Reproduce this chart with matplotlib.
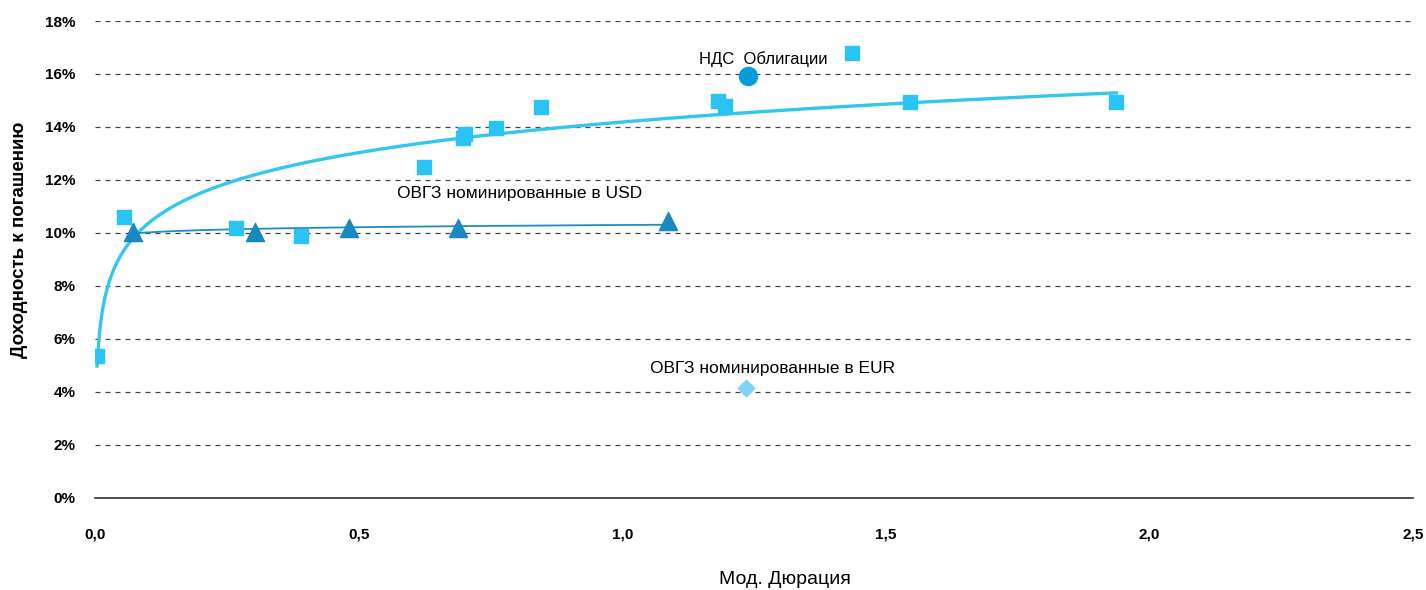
import numpy as np
import matplotlib.pyplot as plt
from matplotlib.ticker import FuncFormatter, MultipleLocator

plt.rcParams['font.family'] = ['Liberation Sans Narrow', 'Liberation Sans', 'DejaVu Sans']

# ---------------------------------------------------------
# DATA
# ---------------------------------------------------------

# ОВГЗ в гривне (квадраты)
uah_dur = [0.004, 0.055, 0.268, 0.391, 0.624, 0.698, 0.701, 0.761, 0.846,
           1.182, 1.194, 1.435, 1.546, 1.937]
uah_ytm = [5.35, 10.62, 10.2, 9.9, 12.5, 13.6, 13.75, 13.96, 14.75,
           14.98, 14.8, 16.8, 14.95, 14.95]

# ОВГЗ номинированные в USD (треугольники)
usd_dur = [0.072, 0.304, 0.482, 0.689, 1.087]
usd_ytm = [10.05, 10.05, 10.2, 10.17, 10.45]

# НДС облигации
vat_dur = [1.239]
vat_ytm = [15.92]

# ОВГЗ номинированные в EUR
eur_dur = [1.235]
eur_ytm = [4.15]


def log_trend(x, y):
    x = np.array(x)
    a, b = np.polyfit(np.log(x), np.array(y), 1)
    xs = np.linspace(x.min(), x.max(), 400)
    return xs, a * np.log(xs) + b


# ---------------------------------------------------------
# PLOT
# ---------------------------------------------------------

fig = plt.figure(figsize=(14.26, 5.9), dpi=100)
ax = fig.add_axes([0.0666, 0.156, 0.9244, 0.8084])

ax.set_xlim(0, 2.5)
ax.set_ylim(0, 18)

ax.yaxis.set_major_locator(MultipleLocator(2))
ax.xaxis.set_major_locator(MultipleLocator(0.5))
ax.grid(axis='y', linestyle=(0, (4, 4)), color='#444444', linewidth=0.9)
ax.set_axisbelow(True)

for side in ['top', 'right', 'left']:
    ax.spines[side].set_visible(False)
ax.spines['bottom'].set_color('#333333')
ax.spines['bottom'].set_linewidth(1.2)

ax.yaxis.set_major_formatter(FuncFormatter(lambda v, p: f"{v:.0f}%"))
ax.xaxis.set_major_formatter(FuncFormatter(lambda v, p: f"{v:.1f}".replace('.', ',')))
ax.tick_params(length=0, labelsize=11)
ax.tick_params(axis='y', pad=14)
ax.tick_params(axis='x', pad=21)
for lab in ax.get_xticklabels() + ax.get_yticklabels():
    lab.set_fontweight('bold')

# тренды
xs, ys = log_trend(uah_dur, uah_ytm)
ax.plot(xs, ys, color='#33C6F0', linewidth=2.4, zorder=2)
xs, ys = log_trend(usd_dur, usd_ytm)
ax.plot(xs, ys, color='#1E8DC6', linewidth=1.3, zorder=2)

# точки
ax.scatter(uah_dur, uah_ytm, marker='s', s=95, color='#29C4F4', zorder=3)
ax.scatter(usd_dur, usd_ytm, marker='^', s=170, color='#1A89C0', zorder=3)
ax.scatter(vat_dur, vat_ytm, marker='o', s=170, color='#079DD9', zorder=3)
ax.scatter(eur_dur, eur_ytm, marker='D', s=70, color='#7FD3F6', zorder=3)

# подписи
ax.text(1.268, 16.55, "НДС  Облигации", fontsize=12, ha='center', va='center')
ax.text(0.805, 11.5, "ОВГЗ номинированные в USD", fontsize=12.5,
        ha='center', va='center')
ax.text(1.285, 4.87, "ОВГЗ номинированные в EUR", fontsize=12.5,
        ha='center', va='center')

fig.text(785 / 1426, 1 - 580 / 590, "Мод. Дюрация", fontsize=14,
         ha='center', va='center')
fig.text(20 / 1426, 1 - 240 / 590, "Доходность к погашению", fontsize=13.5,
         fontweight='bold', rotation=90, ha='center', va='center')

fig.savefig("out.png", dpi=100)
